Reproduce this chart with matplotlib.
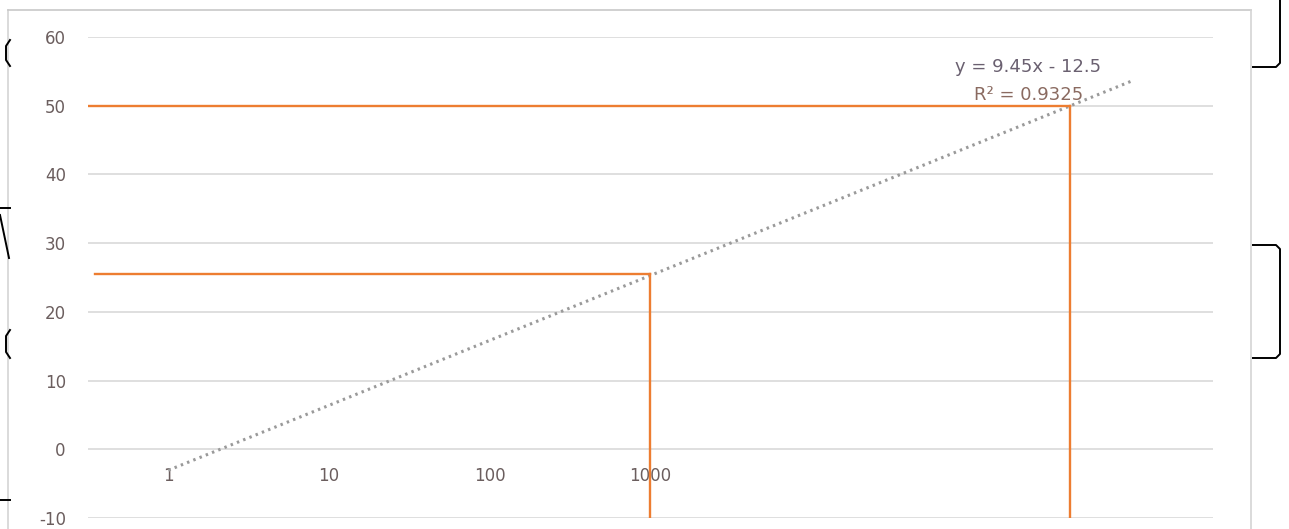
import matplotlib.pyplot as plt
from matplotlib.lines import Line2D

# category axis: 7 slots, only the first four carry a label
categories = ['1', '10', '100', '1000', '', '', '']
slope = 9.45
intercept = -12.5
r_squared = 0.9325

# orange guide lines (x position on category axis, y value)
guide_x = [4, 6.61]
guide_y = [25.5, 50]

y_ticks = [-10, 0, 10, 20, 30, 40, 50, 60]

W, H = 1289, 529
fig = plt.figure(figsize=(W / 100, H / 100), dpi=100)
fig.patch.set_facecolor('white')

# chart area frame
fig.add_artist(Line2D([8 / W, 8 / W], [0, 1 - 10 / H], transform=fig.transFigure,
                      color='#d4d4d4', lw=1.2))
fig.add_artist(Line2D([8 / W, 1251 / W], [1 - 10 / H, 1 - 10 / H], transform=fig.transFigure,
                      color='#c8c8c8', lw=1.2))
fig.add_artist(Line2D([1251 / W, 1251 / W], [0, 1 - 10 / H], transform=fig.transFigure,
                      color='#d4d4d4', lw=1.2))

# bracket shapes outside the chart area
def fig_line(xs, ys, **kw):
    fig.add_artist(Line2D([x / W for x in xs], [1 - y / H for y in ys],
                          transform=fig.transFigure, color='black', lw=1.4, **kw))

fig_line([1253, 1276, 1280, 1280], [67, 67, 63, 0])
fig_line([1253, 1276, 1280, 1280, 1276, 1253], [245, 245, 249, 354, 358, 358])
fig_line([10, 6, 6, 10], [40, 46, 60, 66])
fig_line([10, 6, 6, 10], [330, 336, 352, 358])
fig_line([0, 10], [208, 208])
fig_line([0, 9], [215, 258])
fig_line([0, 10], [500, 500])

ax = fig.add_axes([88 / W, 1 - 518 / H, 1125 / W, 481 / H])
ax.set_facecolor('white')
ax.set_xlim(0.5, 7.5)
ax.set_ylim(-10, 60)

ax.set_yticks(y_ticks)
ax.set_yticklabels([str(v) for v in y_ticks])
ax.yaxis.grid(True, color='#d9d9d9', lw=1.2)
ax.set_axisbelow(True)
for s in ax.spines.values():
    s.set_visible(False)
ax.tick_params(axis='y', length=0, pad=16, labelsize=12, labelcolor='#6b5e5e')

# horizontal axis crosses at y = 0
ax.spines['bottom'].set_position(('data', 0))
ax.set_xticks(range(1, len(categories) + 1))
ax.set_xticklabels(categories)
ax.tick_params(axis='x', length=0, pad=13, labelsize=12, labelcolor='#6b5e5e')

# linear trendline
tx = [1, len(categories)]
ty = [slope * x + intercept for x in tx]
ax.plot(tx, ty, color='#9a9a9a', lw=2.2, linestyle=(0, (0.8, 1.4)), zorder=3)

# guide lines
orange = '#ED7D31'
for gx, gy in zip(guide_x, guide_y):
    left = 0.5 if gy == 50 else 0.545
    ax.plot([left, gx], [gy, gy], color=orange, lw=1.7, zorder=4)
    ax.plot([gx, gx], [-10, gy], color=orange, lw=1.7, zorder=4)

sign = '-' if intercept < 0 else '+'
ax.text(6.35, 55.7, f'y = {slope:.2f}x {sign} {abs(intercept)}', ha='center', va='center',
        fontsize=13, color='#6a6070')
ax.text(6.35, 51.5, f'R² = {r_squared:.4f}', ha='center', va='center',
        fontsize=13, color='#8a6a60')

fig.savefig('out.png', dpi=100, facecolor='white')
